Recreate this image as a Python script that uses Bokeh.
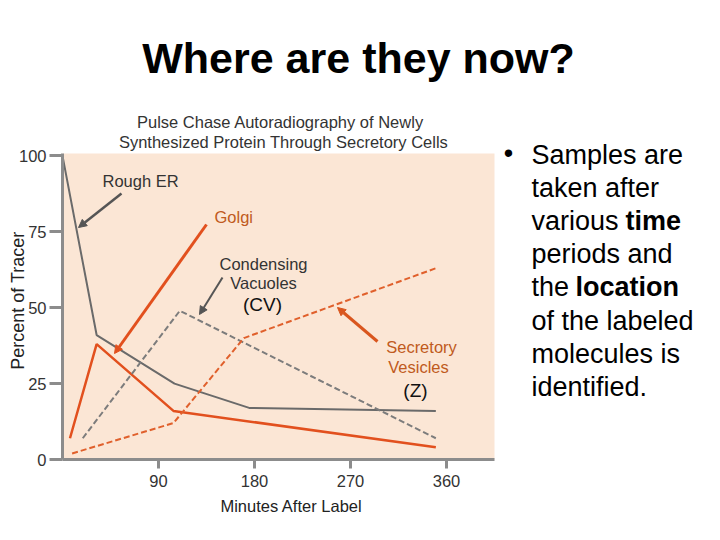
import math
from bokeh.plotting import figure
from bokeh.models import (Range1d, Label, Arrow, NormalHead, FixedTicker,
                          BoxAnnotation)
from bokeh.embed import file_html
from bokeh.resources import INLINE

# ---- data ----
minutes_er = [0, 32, 105, 175, 350]
pct_er = [100, 41, 25, 17, 16]
minutes_golgi = [7, 32, 104, 350]
pct_golgi = [7, 38, 16, 4]
minutes_cv = [19, 110, 350]
pct_cv = [7, 49, 7]
minutes_sv = [9, 104, 170, 350]
pct_sv = [2, 12, 40, 63]
x_ticks = [90, 180, 270, 360]
y_ticks = [0, 25, 50, 75, 100]
x_max, y_max = 405, 100.8  # extent of the chart panel

# ---- layout constants ----
W, H = 704, 524
OX, OY = 62, 459          # canvas px of the chart origin (0 min, 0 %)
XS = 432 / x_max          # px per minute
YS = 306 / y_max          # px per percent
FONT = "Liberation Sans"
CH = "16.5px"

p = figure(width=W, height=H, output_backend="svg", toolbar_location=None,
           x_range=Range1d(-OX / XS, (W - OX) / XS),
           y_range=Range1d(-(H - OY) / YS, OY / YS),
           min_border=0, min_border_left=0, min_border_right=0,
           min_border_top=0, min_border_bottom=0)
p.background_fill_color = "white"
p.border_fill_color = "white"
p.outline_line_color = None
p.grid.visible = False

# chart panel background
p.add_layout(BoxAnnotation(left=0, right=x_max, bottom=0, top=y_max,
                           fill_color="#fbe6d5", fill_alpha=1,
                           line_color=None, level="underlay"))


def X(rx):
    return (rx - OX) / XS


def Y(ry):
    return (OY - ry) / YS


# axes, pinned at the chart origin
for ax in (p.xaxis[0], p.yaxis[0]):
    ax.fixed_location = 0
    ax.axis_line_color = "#8c8c8c"
    ax.axis_line_width = 3
    ax.major_tick_line_color = "#8c8c8c"
    ax.major_tick_line_width = 3
    ax.major_tick_in = 0
    ax.minor_tick_line_color = None
    ax.major_label_text_font = FONT
    ax.major_label_text_font_size = CH
    ax.major_label_text_color = "#333333"

p.xaxis[0].bounds = (0, x_max)
p.yaxis[0].bounds = (0, y_max)
p.xaxis[0].ticker = FixedTicker(ticks=x_ticks)
p.yaxis[0].ticker = FixedTicker(ticks=y_ticks)
p.xaxis[0].major_tick_out = 9
p.yaxis[0].major_tick_out = 13
p.xaxis[0].major_label_standoff = 6
p.yaxis[0].major_label_standoff = 3

# series
p.line(minutes_er, pct_er, line_color="#6a6a6a", line_width=2)
p.line(minutes_golgi, pct_golgi, line_color="#e2501e", line_width=2.5)
p.line(minutes_cv, pct_cv, line_color="#7c7c7c", line_width=2, line_dash="6 3")
p.line(minutes_sv, pct_sv, line_color="#e0602c", line_width=2, line_dash="6 3")


def lab(text, rx, ry, size=CH, color="#333333", align="left", style="normal",
        angle=0.0, font=FONT):
    p.add_layout(Label(x=X(rx), y=Y(ry), text=text, text_font=font,
                       text_font_size=size, text_color=color, text_align=align,
                       text_font_style=style, text_baseline="middle",
                       angle=angle))


def arrow(x0, y0, x1, y1, color, width):
    p.add_layout(Arrow(x_start=X(x0), y_start=Y(y0), x_end=X(x1), y_end=Y(y1),
                       line_color=color, line_width=width,
                       end=NormalHead(size=8, fill_color=color, line_color=color)))


# axis titles
lab("Percent of Tracer", 17, 300, size="18px", color="#222222",
    align="center", angle=math.pi / 2)
lab("Minutes After Label", 291, 505, color="#222222", align="center")

# chart title
lab("Pulse Chase Autoradiography of Newly", 280, 121, align="center")
lab("Synthesized Protein Through Secretory Cells", 283, 141, align="center")

# annotations
lab("Rough ER", 102, 180)
arrow(121, 193, 78, 227, "#555555", 2.5)
lab("Golgi", 214, 216.5, color="#c05a20")
arrow(206, 224, 114, 353, "#e2501e", 3)
lab("Condensing", 263, 263, align="center")
lab("Vacuoles", 263, 282, align="center")
lab("(CV)", 262, 304, size="19px", color="#111111", align="center")
arrow(222, 277, 199, 314, "#555555", 2)
lab("Secretory", 421, 346, color="#c05a20", align="center")
lab("Vesicles", 418, 366, color="#c05a20", align="center")
lab("(Z)", 415, 390, size="19px", color="#111111", align="center")
arrow(377, 341, 337, 307, "#d9561e", 3)

# slide title
lab("Where are they now?", 358, 57, size="43px", color="#000000",
    align="center", style="bold")

# bullet text
BX = 531
BS = "27px"
lab("\u2022", 508, 152, size=BS, color="#000000", align="center")
lines = [
    [("Samples are", "normal", 0)],
    [("taken after", "normal", 0)],
    [("various ", "normal", 0), ("time", "bold", 94)],
    [("periods and", "normal", 0)],
    [("the ", "normal", 0), ("location", "bold", 44)],
    [("of the labeled", "normal", 0)],
    [("molecules is", "normal", 0)],
    [("identified.", "normal", 0)],
]
for i, segs in enumerate(lines):
    cy = 154 + i * 33.2
    for txt, st, dx in segs:
        lab(txt, BX + dx, cy, size=BS, color="#000000", style=st)

open("out.html", "w").write(file_html(p, INLINE))
